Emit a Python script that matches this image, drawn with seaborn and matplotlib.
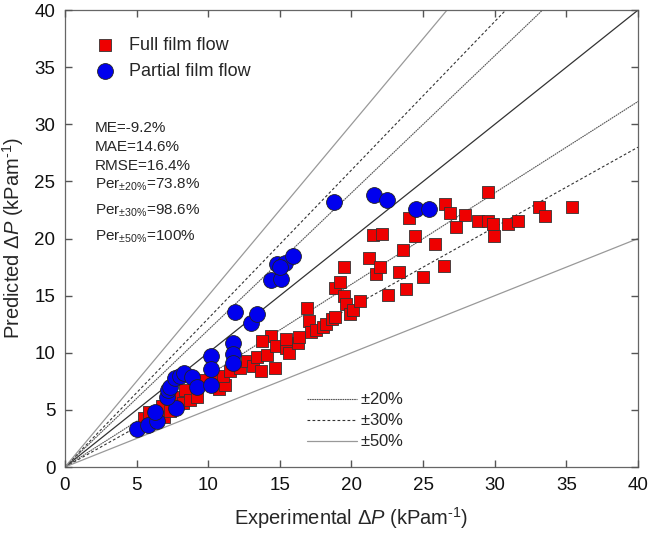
import numpy as np
import pandas as pd
import matplotlib
matplotlib.use("Agg")
import matplotlib.pyplot as plt
import seaborn as sns
from matplotlib.lines import Line2D

# ---------------- data ----------------
full_x = [5.5, 5.9, 6.75, 6.9, 7.3, 7.9, 8.4, 8.25, 8.7, 9.2, 9.7, 10.5, 10.75, 11.2, 11.05,
          11.55, 12.2, 12.7, 13.1, 13.4, 13.7, 14.1, 14.4, 13.75, 14.65, 14.75, 15.4, 15.45,
          15.65, 16.3, 16.35, 16.9, 17.0, 17.2, 17.55, 18.0, 18.25, 18.65, 18.85, 18.85, 19.2,
          19.5, 19.5, 19.6, 19.9, 20.1, 20.6, 21.2, 21.5, 22.1, 21.7, 22.0, 22.55, 23.3, 23.6,
          23.8, 24.0, 24.4, 25.0, 25.8, 26.45, 26.5, 26.9, 27.3, 27.9, 28.8, 29.55, 29.55,
          29.9, 29.95, 30.9, 31.6, 33.1, 33.5, 35.4]
full_y = [4.3, 4.8, 5.3, 4.4, 4.9, 6.15, 6.7, 5.6, 5.9, 6.1, 7.6, 7.6, 6.85, 7.15, 8.0,
          8.4, 8.65, 9.3, 8.8, 9.65, 8.4, 9.8, 11.5, 11.05, 8.7, 10.6, 10.4, 11.25,
          10.0, 10.9, 11.4, 13.9, 12.8, 11.8, 12.0, 12.3, 12.55, 12.95, 13.15, 15.7, 16.2,
          17.5, 15.0, 14.3, 13.4, 13.75, 14.55, 18.3, 20.3, 20.4, 16.9, 17.5, 15.05, 17.1, 19.0,
          15.6, 21.8, 20.2, 16.6, 19.5, 17.6, 23.0, 22.25, 21.0, 22.1, 21.5, 24.1, 21.5,
          21.3, 20.25, 21.25, 21.5, 22.8, 22.0, 22.8]

part_x = [5.0, 5.8, 6.4, 6.3, 7.75, 7.1, 7.2, 7.3, 7.7, 8.0, 8.3, 8.9, 9.2, 10.2, 10.2, 10.2,
          11.75, 11.7, 11.75, 11.9, 13.0, 13.4, 14.35, 15.05, 14.8, 15.35, 15.0, 15.9,
          18.8, 21.6, 22.5, 24.5, 25.4]
part_y = [3.3, 3.7, 4.0, 4.8, 5.2, 6.1, 6.7, 7.0, 7.8, 8.0, 8.2, 7.9, 7.0, 9.7, 8.6, 7.2,
          10.9, 9.9, 9.1, 13.6, 12.6, 13.4, 16.4, 16.5, 17.8, 17.9, 17.5, 18.5,
          23.2, 23.8, 23.4, 22.6, 22.6]

stats_lines = ["ME=-9.2%", "MAE=14.6%", "RMSE=16.4%",
               r"Per$_{\pm20\%}$=73.8%", r"Per$_{\pm30\%}$=98.6%", r"Per$_{\pm50\%}$=100%"]
band_factors = [0.2, 0.3, 0.5]
band_labels = [r"$\pm$20%", r"$\pm$30%", r"$\pm$50%"]
series_labels = ["Full film flow", "Partial film flow"]
ticks = [0, 5, 10, 15, 20, 25, 30, 35, 40]

# ---------------- style ----------------
sns.set_style("white")
plt.rcParams.update({
    "font.family": ["Liberation Sans", "DejaVu Sans"],
    "mathtext.fontset": "custom",
    "mathtext.rm": "Liberation Sans",
    "mathtext.it": "Liberation Sans:italic",
    "mathtext.sf": "Liberation Sans",
    "axes.axisbelow": False,
})

fig = plt.figure(figsize=(6.53, 5.33), dpi=100)
ax = fig.add_axes([0.0995, 0.1238, 0.8775, 0.8572])

# reference lines
xl = np.array([0, 40])
line_df = pd.DataFrame({"x": xl, "y": xl})
sns.lineplot(data=line_df, x="x", y="y", ax=ax, color="#333333", lw=0.9, zorder=1)
styles = {0.2: dict(color="#555555", lw=0.8, ls=(0, (1.5, 0.6))),
          0.3: dict(color="#333333", lw=0.8, ls=(0, (2.5, 2.0))),
          0.5: dict(color="#999999", lw=0.9, ls="-")}
for f in band_factors:
    for s in (1 + f, 1 - f):
        ax.plot(xl, s * xl, zorder=1, **styles[f])

df_full = pd.DataFrame({"x": full_x, "y": full_y})
df_part = pd.DataFrame({"x": part_x, "y": part_y})
sns.scatterplot(data=df_full, x="x", y="y", ax=ax, marker="s", s=80, color="#ee0000",
                edgecolor="#333333", linewidth=0.6, zorder=3, label=series_labels[0])
sns.scatterplot(data=df_part, x="x", y="y", ax=ax, marker="o", s=130, color="#0000ee",
                edgecolor="#222222", linewidth=0.6, zorder=4, label=series_labels[1])

ax.set_xlim(0, 40)
ax.set_ylim(0, 40)
ax.set_xticks(ticks)
ax.set_yticks(ticks)
ax.tick_params(axis="both", which="major", direction="in", length=5, width=1.0,
               colors="#555555", labelcolor="#111111",
               bottom=True, top=True, left=True, right=True, labelsize=13.5, pad=7)
for sp in ax.spines.values():
    sp.set_visible(True)
    sp.set_color("#666666")
    sp.set_linewidth(0.9)

ax.set_xlabel(r"Experimental $\mathit{\Delta P}$ (kPam$^{\text{-}1}$)", fontsize=14.5, labelpad=8)
ax.set_ylabel(r"Predicted $\mathit{\Delta P}$ (kPam$^{\text{-}1}$)", fontsize=14.5, labelpad=6)

leg1 = ax.legend(loc="upper left", bbox_to_anchor=(0.02, 0.965), frameon=False, fontsize=13,
                 handletextpad=0.3, labelspacing=0.5, borderaxespad=0.2, markerscale=1.0)
ax.add_artist(leg1)

handles = [Line2D([0], [0], **styles[f]) for f in band_factors]
ax.legend(handles, band_labels, loc="upper left", bbox_to_anchor=(0.41, 0.18), frameon=False,
          fontsize=12, handlelength=3.0, handletextpad=0.2, labelspacing=0.3, borderaxespad=0)

ypos = [0.742, 0.700, 0.659, 0.617, 0.560, 0.503]
for t, yy in zip(stats_lines, ypos):
    ax.text(0.052, yy, t, transform=ax.transAxes, fontsize=11, va="center", ha="left")

fig.savefig("out.png", dpi=100)
